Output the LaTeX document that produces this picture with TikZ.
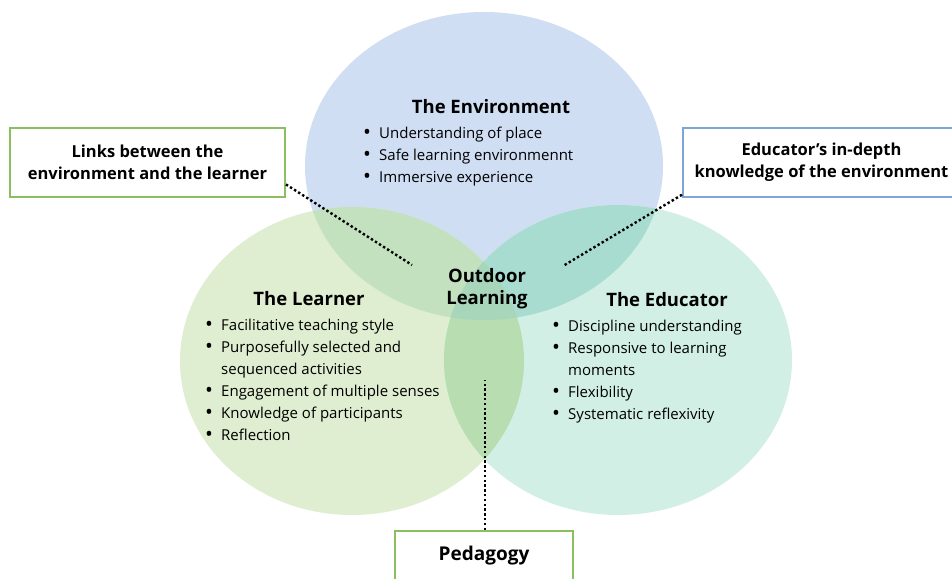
\documentclass[tikz,border=0pt]{standalone}
\usepackage{fontspec}
\setmainfont{Open Sans}
\usepackage{tikz}
\definecolor{envfill}{HTML}{CFDEF3}
\definecolor{lrnfill}{HTML}{DFEDD0}
\definecolor{edufill}{HTML}{D2EFE5}
\definecolor{envlrn}{HTML}{C3E0BF}
\definecolor{envedu}{HTML}{A9DCD0}
\definecolor{lrnedu}{HTML}{B7DDB0}
\definecolor{allthree}{HTML}{A8D6BA}
\definecolor{boxgreen}{HTML}{8CBF5F}
\definecolor{boxblue}{HTML}{7FA4D8}

\tikzstyle{title}=[font=\fontsize{18.5}{22}\selectfont\bfseries]
\tikzstyle{items}=[anchor=north west, inner sep=0pt, align=left, font=\fontsize{15}{22}\selectfont]
\tikzstyle{tag}=[draw, line width=2pt, fill=white, align=center, font=\fontsize{16.5}{22}\selectfont\bfseries]
\tikzstyle{dots}=[line width=2.4pt, dash pattern=on 2.4pt off 2.4pt]

% the three sets
\def\envset{(484,166) ellipse [x radius=179, y radius=154]}
\def\lrnset{(352,361) ellipse [x radius=172, y radius=154]}
\def\eduset{(618,360) ellipse [x radius=174, y radius=155]}
\newcommand{\itm}{\makebox[16pt][l]{\raisebox{-1pt}{\fontsize{21}{22}\selectfont\textbullet}}}
\newcommand{\gap}{\hspace*{16pt}}

\begin{document}
\begin{tikzpicture}[x=1pt, y=-1pt]
	\useasboundingbox (0,0) rectangle (952,578);
	\fill[white] (0,0) rectangle (952,578);

	\fill[envfill] \envset;
	\fill[lrnfill] \lrnset;
	\fill[edufill] \eduset;
	\begin{scope}
		\clip \envset;
		\fill[envlrn] \lrnset;
		\fill[envedu] \eduset;
	\end{scope}
	\begin{scope}
		\clip \lrnset;
		\fill[lrnedu] \eduset;
		\clip \eduset;
		\fill[allthree] \envset;
	\end{scope}

	% headings
	\node[title] (envhead) at (491,107) {The Environment};
	\node[title] (lrnhead) at (309,299) {The Learner};
	\node[title] (eduhead) at (667,300) {The Educator};
	\node[title, align=center] (outdoor) at (487,289) {Outdoor\\Learning};

	% bullet lists
	\node[items] (envlist) at (363,127) {\itm Understanding of place\\
		\itm Safe learning environmennt\\
		\itm Immersive experience};
	\node[items] (lrnlist) at (205,319) {\itm Facilitative teaching style\\
		\itm Purposefully selected and\\
		\gap sequenced activities\\
		\itm Engagement of multiple senses\\
		\itm Knowledge of participants\\
		\itm Reflection};
	\node[items] (edulist) at (552,320) {\itm Discipline understanding\\
		\itm Responsive to learning\\
		\gap moments\\
		\itm Flexibility\\
		\itm Systematic reflexivity};

	% labelled boxes
	\node[tag, draw=boxgreen, minimum width=275pt, minimum height=69pt] (links) at (147.5,162.5) {Links between the\\environment and the learner};
	\node[tag, draw=boxblue, minimum width=277pt, minimum height=69pt] (know) at (821.5,162.5) {Educator’s in-depth\\knowledge of the environment};
	\node[tag, draw=boxgreen, minimum width=178pt, minimum height=50pt, font=\fontsize{19}{22}\selectfont\bfseries] (peda) at (484,556) {Pedagogy};

	\coordinate (linksend) at (412,265);
	\coordinate (knowend) at (563,266);
	\coordinate (pedaend) at (485,380);
	\draw[dots] (links.-9) -- (linksend);
	\draw[dots] (know.193) -- (knowend);
	\draw[dots] (peda.north -| pedaend) -- (pedaend);
\end{tikzpicture}
\end{document}
